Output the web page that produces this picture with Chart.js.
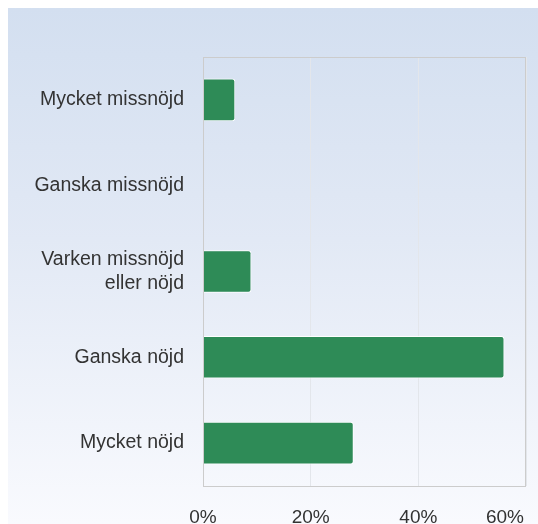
<!DOCTYPE html>
<html>
<head>
<meta charset="utf-8">
<script src="https://cdn.jsdelivr.net/npm/chart.js@4/dist/chart.umd.min.js"></script>
<style>
  html, body { margin: 0; padding: 0; background: #fff; }
  #wrap { position: absolute; left: 8px; top: 8px; width: 530px; height: 516px;
    background: linear-gradient(to bottom, #d3dff0 0%, #e2e9f5 45%, #f9fafe 100%); }
  canvas { display: block; }
</style>
</head>
<body>
<div id="wrap"><canvas id="c" width="530" height="516"></canvas></div>
<script>
// svarsalternativ och andel (%)
const categories = ["Mycket missnöjd", "Ganska missnöjd", ["Varken missnöjd", "eller nöjd"], "Ganska nöjd", "Mycket nöjd"];
const values = [6, 0, 9, 56, 28];
const xTicks = [0, 20, 40, 60];

const FONT = "'Liberation Sans', Arial, sans-serif";
const TXT = "#333333";

// ram runt plottytan + x-etiketter som hålls inom bilden (sista högerjusteras)
const frame = {
  id: "frame",
  afterDatasetsDraw(chart) {
    const { ctx, chartArea: a, scales } = chart;
    ctx.save();
    ctx.strokeStyle = "#cccccc";
    ctx.lineWidth = 1;
    ctx.strokeRect(Math.round(a.left) + 0.5, Math.round(a.top) + 0.5, Math.round(a.right - a.left) - 1, Math.round(a.bottom - a.top));
    ctx.font = "19px " + FONT;
    ctx.fillStyle = TXT;
    ctx.textBaseline = "middle";
    xTicks.forEach((v) => {
      const t = v + "%";
      const w = ctx.measureText(t).width;
      let x = scales.x.getPixelForValue(v) - w / 2;
      if (x + w > chart.width - 14) x = chart.width - 14 - w;
      ctx.fillText(t, x, a.bottom + 32);
    });
    ctx.restore();
  },
};

new Chart(document.getElementById("c"), {
  type: "bar",
  data: {
    labels: categories,
    datasets: [{
      data: values,
      backgroundColor: "#2e8b57",
      borderColor: "#ffffff",
      borderWidth: 1,
      borderRadius: 3,
      categoryPercentage: 0.8,
      barPercentage: 0.62,
    }],
  },
  options: {
    indexAxis: "y",
    responsive: false,
    animation: false,
    layout: { padding: { top: 49, right: 12, left: 0, bottom: 0 } },
    plugins: { legend: { display: false }, tooltip: { enabled: false } },
    scales: {
      x: {
        min: 0, max: 60,
        afterBuildTicks: (s) => { s.ticks = xTicks.map((v) => ({ value: v })); },
        afterFit: (s) => { s.height = 38; },
        grid: { color: "#e3e6eb", drawTicks: false },
        border: { display: false },
        ticks: { display: false },
      },
      y: {
        afterFit: (s) => { s.width = 195; },
        grid: { display: false, drawTicks: false },
        border: { display: false },
        ticks: { color: TXT, padding: 19, font: { size: 19.5, family: FONT, lineHeight: 1.22 } },
      },
    },
  },
  plugins: [frame],
});
</script>
</body>
</html>
